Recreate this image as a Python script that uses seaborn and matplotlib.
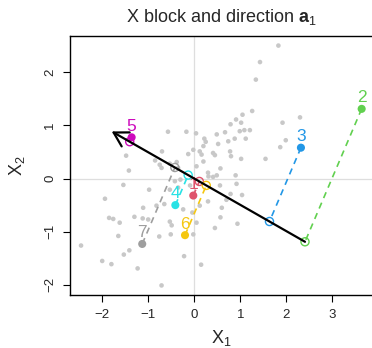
import numpy as np
import pandas as pd
import matplotlib
matplotlib.use("Agg")
import matplotlib.pyplot as plt
import seaborn as sns

# ---- data ----
grey_x = [-0.57, -0.17, 0.04, 0.22, 0.49, -0.70, -0.85, -0.75, -0.71, -0.53,
          -0.38, -0.35, -1.48, -1.42, -0.13, -0.02, 0.12, 0.16, 0.20, 0.05,
          0.20, 0.30, 0.49, 0.57, 0.90, 0.92, 0.56, -0.42, -0.30, -0.98,
          -0.53, -0.35, -1.54, -1.94, -1.11, -0.82, -0.65, -0.24, 0.12, 0.30,
          0.60, 0.45, -1.85, -1.76, -1.62, -1.30, -1.12, -1.00, -0.53, -0.49,
          -1.65, -0.76, -0.51, -2.46, -1.41, -1.53, -2.00, -1.80, -1.23, -0.22,
          0.15, -0.71, -0.04, 0.05, -0.02,
          1.83, 1.43, 1.34, 1.26, 1.05, 0.91, 1.02, 1.92, 2.30, 0.79,
          0.99, 1.09, 1.21, 0.67, 0.88, 1.12, 0.74, 1.99, 1.87, 0.25,
          0.52, 0.41, 0.45, 0.80, 1.02, 1.55, 0.31, 0.41, 0.79, 1.04,
          0.57, 0.94, 0.70, 0.78, -0.09]
grey_y = [0.88, 0.88, 0.85, 0.75, 0.83, 0.51, 0.34, 0.26, 0.20, 0.28,
          0.31, 0.20, 0.43, 0.15, 0.46, 0.54, 0.51, 0.45, 0.61, 0.23,
          0.32, 0.11, 0.06, 0.19, 0.06, -0.10, -0.13, -0.05, -0.02, -0.21,
          -0.21, -0.17, -0.12, -0.38, -0.55, -0.51, -0.48, -0.58, -0.51, -0.43,
          -0.55, -0.93, -0.74, -0.76, -0.83, -0.72, -0.75, -0.77, -0.81, -0.88,
          -1.08, -1.09, -1.05, -1.26, -1.35, -1.43, -1.55, -1.61, -1.69, -1.46,
          -1.62, -2.01, -0.64, -0.83, -1.05,
          2.50, 2.19, 1.86, 1.27, 1.20, 1.11, 1.05, 1.05, 1.15, 1.02,
          0.89, 0.91, 0.91, 0.87, 0.75, 0.75, 0.70, 0.72, 0.59, 0.69,
          0.65, 0.48, 0.44, 0.42, 0.37, 0.37, 0.04, 0.03, -0.29, -0.31,
          -0.73, -0.85, -0.40, 0.51, -0.13]

obs_id = ["1", "2", "3", "4", "5", "6", "7"]
obs_x = [-0.02, 3.64, 2.32, -0.41, -1.36, -0.20, -1.13]
obs_y = [-0.32, 1.31, 0.58, -0.50, 0.775, -1.065, -1.23]
obs_colors = ["#DF536B", "#61D04F", "#2297E6", "#28E2E5", "#CD0BBC", "#F5C710", "#9E9E9E"]

a1 = [0.897, -0.443]          # direction a1
arrow_length = 2.0            # arrow tip at -arrow_length * a1

x_ticks = [-2, -1, 0, 1, 2, 3]
y_ticks = [-2, -1, 0, 1, 2]
x_lim = (-2.70, 3.88)
y_lim = (-2.19, 2.68)

# ---- style ----
sns.set_style("ticks")
plt.rcParams['font.family'] = ['Liberation Sans', 'DejaVu Sans']
plt.rcParams['mathtext.fontset'] = 'custom'
plt.rcParams['mathtext.rm'] = 'Liberation Sans'
plt.rcParams['mathtext.it'] = 'Liberation Sans:italic'
plt.rcParams['mathtext.bf'] = 'Liberation Sans:bold'

W, H = 372, 348
fig = plt.figure(figsize=(W / 100, H / 100), dpi=100)
ax = fig.add_axes([70 / W, 53 / H, 302.7 / W, 259 / H])

# reference lines
ax.axhline(0, color="#dedede", lw=0.9, zorder=1)
ax.axvline(0, color="#dedede", lw=0.9, zorder=1)

# grey cloud
grey_df = pd.DataFrame({"x": grey_x, "y": grey_y})
sns.scatterplot(data=grey_df, x="x", y="y", color="#c8c8c8", s=11,
                edgecolor="none", ax=ax, zorder=2, legend=False)

# highlighted observations
obs_df = pd.DataFrame({"id": obs_id, "x": obs_x, "y": obs_y})
a = np.array(a1)
t = obs_df["x"].to_numpy() * a[0] + obs_df["y"].to_numpy() * a[1]
obs_df["px"] = t * a[0]
obs_df["py"] = t * a[1]
palette = dict(zip(obs_id, obs_colors))

sns.scatterplot(data=obs_df, x="x", y="y", hue="id", palette=palette, s=34,
                edgecolor="none", ax=ax, zorder=3, legend=False)

for _, r in obs_df.iterrows():
    c = palette[r["id"]]
    ax.annotate(r["id"], (r["x"], r["y"]), xytext=(0, 4.8), textcoords="offset points",
                ha="center", va="baseline", color=c, fontsize=12.5, zorder=4)
    ax.plot([r["x"], r["px"]], [r["y"], r["py"]], color=c, lw=1.2,
            ls=(0, (3.8, 3.0)), zorder=5)

ax.scatter(obs_df["px"], obs_df["py"], facecolors="none", edgecolors=obs_colors,
           s=34, linewidths=1.0, zorder=6)

# direction arrow
tmax = t.max()
ax.annotate("", xy=(-arrow_length * a[0], -arrow_length * a[1]),
            xytext=(tmax * a[0], tmax * a[1]),
            arrowprops=dict(arrowstyle="->,head_length=1.0,head_width=0.58",
                            color="black", lw=1.6, shrinkA=0, shrinkB=0),
            zorder=7)

# axes formatting
ax.set_xlim(*x_lim)
ax.set_ylim(*y_lim)
ax.set_xticks(x_ticks)
ax.set_yticks(y_ticks)
ax.set_xticklabels([str(v).replace("-", "\u2212") for v in x_ticks])
ax.set_yticklabels([str(v).replace("-", "\u2212") for v in y_ticks])
ax.tick_params(axis="both", length=5, width=0.8, color="black", labelsize=9.5,
               pad=5, direction="out")
ax.tick_params(axis="y", labelrotation=90)
for lbl in ax.get_yticklabels():
    lbl.set_va("center")
for s in ax.spines.values():
    s.set_color("black")
    s.set_linewidth(1.0)
    s.set_visible(True)

ax.set_xlabel(r"X$_1$", fontsize=13, labelpad=5)
ax.set_ylabel(r"X$_2$", fontsize=13, labelpad=12)
ax.set_title(r"X block and direction $\mathbf{a}_1$", fontsize=13, pad=10)

fig.savefig("out.png", dpi=100)
